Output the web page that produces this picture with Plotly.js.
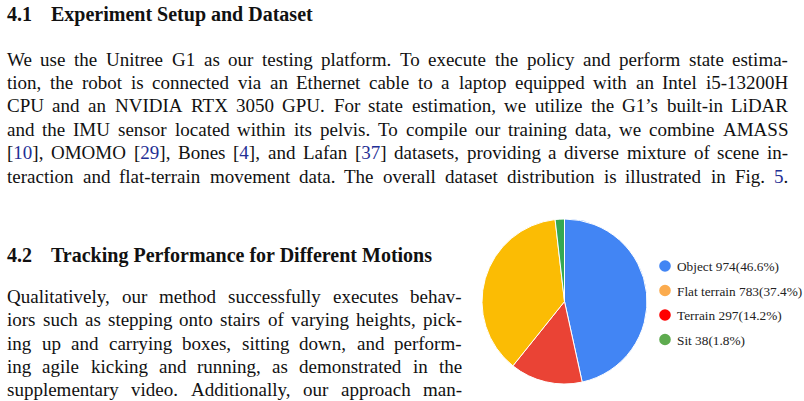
<!DOCTYPE html>
<html>
<head>
<meta charset="utf-8">
<script src="https://cdn.plot.ly/plotly-3.0.1.min.js"></script>
<style>
  html, body { margin: 0; padding: 0; background: #fff; }
  #page { width: 804px; height: 401px; }
</style>
</head>
<body>
<div id="page"></div>
<script>
// dataset distribution (Fig. 5)
var categories = ['Object', 'Flat terrain', 'Terrain', 'Sit'];
var counts = [974, 783, 297, 38];
var sliceColors = ['#4285F4', '#FBBC04', '#EA4335', '#34A853'];
var legendColors = ['#4285F4', '#FBAB4E', '#FF0000', '#5EAB4F'];
// slices go clockwise from 12 o'clock in this order
var pieOrder = [0, 2, 1, 3];

// surrounding paper text, {n} = link-coloured reference
var para1 = [
  'We use the Unitree G1 as our testing platform. To execute the policy and perform state estima-',
  'tion, the robot is connected via an Ethernet cable to a laptop equipped with an Intel i5-13200H',
  'CPU and an NVIDIA RTX 3050 GPU. For state estimation, we utilize the G1\u2019s built-in LiDAR',
  'and the IMU sensor located within its pelvis. To compile our training data, we combine AMASS',
  '[{10}], OMOMO [{29}], Bones [{4}], and Lafan [{37}] datasets, providing a diverse mixture of scene in-',
  'teraction and flat-terrain movement data. The overall dataset distribution is illustrated in Fig. {5}.'
];
var para2 = [
  'Qualitatively, our method successfully executes behav-',
  'iors such as stepping onto stairs of varying heights, pick-',
  'ing up and carrying boxes, sitting down, and perform-',
  'ing agile kicking and running, as demonstrated in the',
  'supplementary video. Additionally, our approach man-'
];

var W = 804, H = 401;
var SERIF = 'Liberation Serif, Times New Roman, serif';
var BODY = 19;
var HEAD = 20;
var LINK = '#1f2f95';

var ctx = document.createElement('canvas').getContext('2d');
function textWidth(s, size, bold) {
  ctx.font = (bold ? 'bold ' : '') + size + 'px "Liberation Serif"';
  return ctx.measureText(s.replace(/[{}]/g, '')).width;
}
function markup(s) {
  return s.replace(/\{([^}]+)\}/g, '<span style="color:' + LINK + '">$1</span>');
}

var annotations = [];
function put(txt, px, base, size, bold, color) {
  annotations.push({
    xref: 'paper', yref: 'paper', x: px / W, y: 1 - (base - size * 0.3) / H,
    xanchor: 'left', yanchor: 'middle', showarrow: false,
    borderpad: 0, borderwidth: 0,
    text: bold ? '<b>' + txt + '</b>' : markup(txt),
    font: {family: SERIF, size: size, color: color || '#111'}
  });
}

function justify(lines, left, right, firstBase, step) {
  lines.forEach(function (line, i) {
    var words = line.split(' ');
    var total = 0;
    words.forEach(function (w) { total += textWidth(w, BODY); });
    var gap = (right - left - total) / (words.length - 1);
    var x = left;
    words.forEach(function (w) {
      put(w, x, firstBase + i * step, BODY);
      x += textWidth(w, BODY) + gap;
    });
  });
}

// headings
put('4.1', 7, 20, HEAD, true);
put('Experiment Setup and Dataset', 51, 20, HEAD, true);
put('4.2', 7, 261, HEAD, true);
put('Tracking Performance for Different Motions', 51, 261, HEAD, true);

justify(para1, 7, 788, 65, 23.35);
justify(para2, 7, 462, 302, 23.35);

// custom legend next to the pie
var total = counts.reduce(function (a, b) { return a + b; }, 0);
var shapes = [];
var legendY = [266, 290.5, 315, 339.5];
categories.forEach(function (c, i) {
  var cx = 665, cy = legendY[i], r = 5.8;
  shapes.push({
    type: 'circle', xref: 'paper', yref: 'paper',
    x0: (cx - r) / W, x1: (cx + r) / W, y0: 1 - (cy + r) / H, y1: 1 - (cy - r) / H,
    fillcolor: legendColors[i], line: {width: 0}
  });
  var label = c + ' ' + counts[i] + '(' + (100 * counts[i] / total).toFixed(1) + '%)';
  put(label, 677, cy + 4.5, 13.3, false, '#222');
});

var trace = {
  type: 'pie',
  labels: pieOrder.map(function (k) { return categories[k]; }),
  values: pieOrder.map(function (k) { return counts[k]; }),
  marker: {
    colors: pieOrder.map(function (k) { return sliceColors[k]; }),
    line: {color: '#fff', width: 1}
  },
  sort: false,
  direction: 'clockwise',
  rotation: 0,
  textinfo: 'none',
  hoverinfo: 'none',
  showlegend: false,
  domain: {x: [482 / W, 647 / W], y: [1 - 385 / H, 1 - 218 / H]}
};

var layout = {
  width: W, height: H,
  margin: {l: 0, r: 0, t: 0, b: 0},
  paper_bgcolor: '#fff',
  showlegend: false,
  annotations: annotations,
  shapes: shapes
};

Plotly.newPlot('page', [trace], layout, {displayModeBar: false, staticPlot: true});
</script>
</body>
</html>
